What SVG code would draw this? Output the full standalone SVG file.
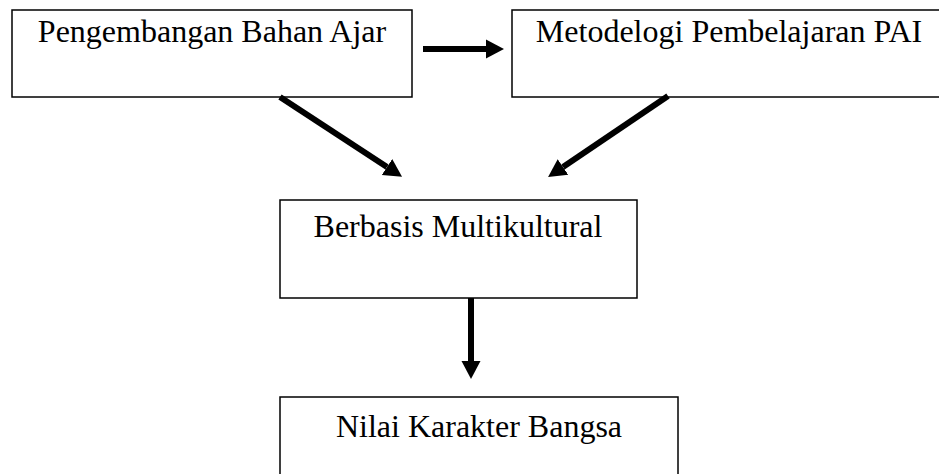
<svg xmlns="http://www.w3.org/2000/svg" width="939" height="474" viewBox="0 0 939 474">
<style>
.box{fill:#fff;stroke:#000;stroke-width:1.5}
.lbl{font-family:"Liberation Serif","Times New Roman",serif;font-size:32px;fill:#000;text-anchor:middle}
.conn{stroke:#000;stroke-width:6;fill:none}
</style>
<defs>
<marker id="ah" markerUnits="userSpaceOnUse" markerWidth="22" markerHeight="22" viewBox="0 -11 22 22" refX="0" refY="0" orient="auto">
<path d="M0,-9.5 L18,0 L0,9.5 z" fill="#000"/>
</marker>
</defs>
<rect width="939" height="474" fill="#fff"/>
<g id="n1"><rect class="box" x="12" y="10" width="400" height="87"/><text class="lbl" x="212" y="42">Pengembangan Bahan Ajar</text></g>
<g id="n2"><rect class="box" x="512" y="10" width="440" height="87"/><text class="lbl" x="729" y="42">Metodelogi Pembelajaran PAI</text></g>
<g id="n3"><rect class="box" x="280" y="200" width="357" height="98"/><text class="lbl" x="458" y="237">Berbasis Multikultural</text></g>
<g id="n4"><rect class="box" x="280" y="397" width="398" height="100"/><text class="lbl" x="479" y="437">Nilai Karakter Bangsa</text></g>
<g id="connectors">
<line class="conn" x1="423" y1="49" x2="486" y2="49" marker-end="url(#ah)"/>
<line class="conn" x1="280" y1="97" x2="387" y2="167" marker-end="url(#ah)"/>
<line class="conn" x1="668" y1="96" x2="563" y2="167" marker-end="url(#ah)"/>
<line class="conn" x1="471" y1="298" x2="471" y2="361" marker-end="url(#ah)"/>
</g>
</svg>
